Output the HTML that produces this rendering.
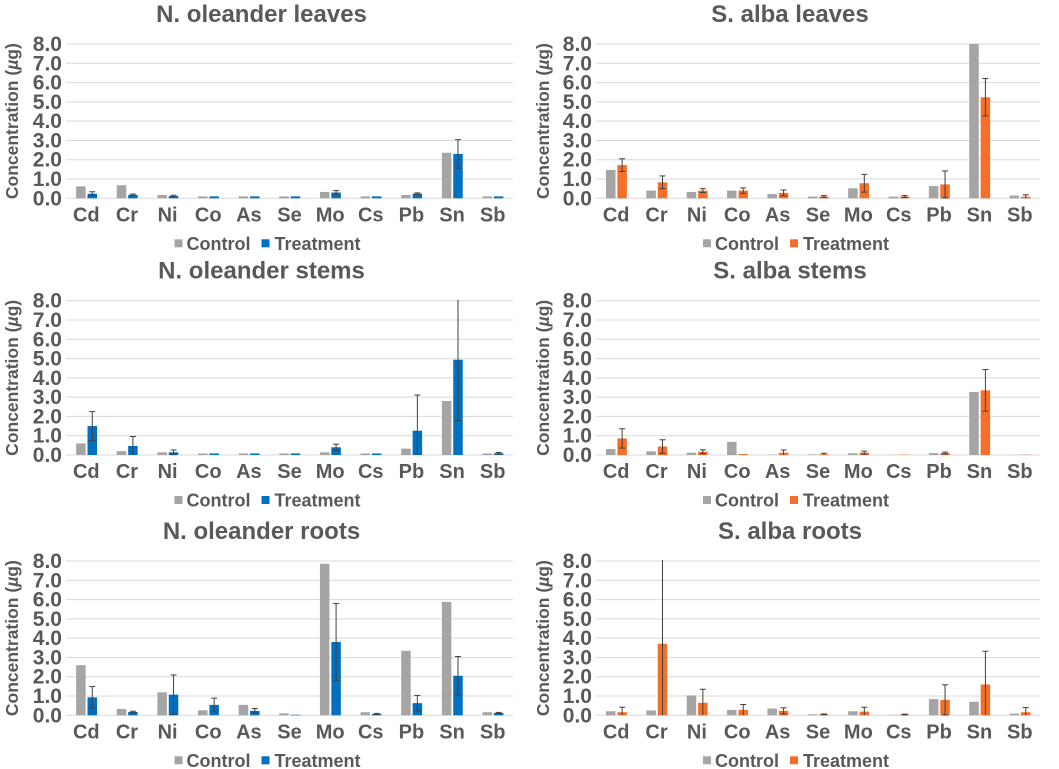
<!DOCTYPE html>
<html><head><meta charset="utf-8">
<style>
html,body{margin:0;padding:0;background:#fff;}
svg{display:block;font-family:"Liberation Sans",Arial,sans-serif;font-weight:bold;}
</style></head>
<body>
<svg id="fig" width="1059" height="769" viewBox="0 0 1059 769" xmlns="http://www.w3.org/2000/svg"></svg>
<script>
const categories = ["Cd","Cr","Ni","Co","As","Se","Mo","Cs","Pb","Sn","Sb"];
const yTicks = [0,1,2,3,4,5,6,7,8];
const yTickLabels = ["0.0","1.0","2.0","3.0","4.0","5.0","6.0","7.0","8.0"];
const titles = ["N. oleander leaves","S. alba leaves","N. oleander stems","S. alba stems","N. oleander roots","S. alba roots"];

const olLeavesControl = [0.62,0.68,0.17,0.1,0.1,0.1,0.33,0.1,0.17,2.36,0.1];
const olLeavesTreat = [0.24,0.18,0.12,0.1,0.1,0.1,0.3,0.1,0.24,2.3,0.1];
const olLeavesErr = [0.1,0.04,0.04,0,0,0,0.1,0,0.04,0.74,0];

const saLeavesControl = [1.47,0.4,0.33,0.4,0.22,0.09,0.52,0.09,0.64,8.0,0.14];
const saLeavesTreat = [1.72,0.83,0.4,0.4,0.28,0.09,0.78,0.09,0.72,5.24,0.08];
const saLeavesErr = [0.33,0.33,0.1,0.14,0.15,0.05,0.46,0.05,0.7,0.97,0.1];

const olStemsControl = [0.6,0.2,0.14,0.08,0.08,0.08,0.14,0.08,0.33,2.8,0.08];
const olStemsTreat = [1.5,0.47,0.14,0.08,0.08,0.08,0.4,0.08,1.26,4.94,0.09];
const olStemsErr = [0.75,0.49,0.12,0,0,0,0.16,0,1.85,3.16,0.04];

const saStemsControl = [0.31,0.19,0.12,0.68,0.02,0.03,0.09,0.01,0.1,3.27,0.01];
const saStemsTreat = [0.86,0.44,0.17,0.05,0.12,0.04,0.12,0.02,0.1,3.35,0.02];
const saStemsErr = [0.5,0.35,0.1,0,0.14,0.05,0.08,0,0.05,1.08,0];

const olRootsControl = [2.6,0.33,1.19,0.26,0.54,0.1,7.86,0.16,3.34,5.88,0.16];
const olRootsTreat = [0.93,0.17,1.07,0.54,0.23,0.03,3.8,0.07,0.63,2.05,0.12];
const olRootsErr = [0.56,0.04,1.02,0.35,0.12,0,2.0,0.03,0.4,1.0,0.03];

const saRootsControl = [0.21,0.25,1.03,0.28,0.35,0.05,0.21,0.02,0.84,0.7,0.09];
const saRootsTreat = [0.16,3.71,0.65,0.28,0.23,0.05,0.19,0.04,0.8,1.6,0.16];
const saRootsErr = [0.26,4.6,0.7,0.28,0.16,0.02,0.23,0.02,0.78,1.72,0.24];

const controls = [olLeavesControl,saLeavesControl,olStemsControl,saStemsControl,olRootsControl,saRootsControl];
const treats = [olLeavesTreat,saLeavesTreat,olStemsTreat,saStemsTreat,olRootsTreat,saRootsTreat];
const errs = [olLeavesErr,saLeavesErr,olStemsErr,saStemsErr,olRootsErr,saRootsErr];

const NS="http://www.w3.org/2000/svg";
const svg=document.getElementById('fig');
function mk(tag,attrs,parent){const e=document.createElementNS(NS,tag);for(const k in attrs)e.setAttribute(k,attrs[k]);parent.appendChild(e);return e;}

const rowTops=[44,300.7,561];
const plotH=154.3;
const colX=[[66,513],[596,1040]];
const colAxisRight=[62,592];
const colTitleX=[12,543];
const TXT="#595959";
const ORANGE="#F4702A", BLUE="#0070C0", GRAY="#A5A5A5";

for(let p=0;p<6;p++){
  const row=Math.floor(p/2), col=p%2;
  const top=rowTops[row], zero=top+plotH;
  const x0=colX[col][0], x1=colX[col][1];
  const bw=(x1-x0)/categories.length;
  const yScale=v=>zero-Math.min(v,8.05)/8*plotH;
  const xBand=i=>x0+bw*(i+0.5);
  const tcol=col===0?BLUE:ORANGE;
  const g=mk('g',{},svg);
  
  
  const t=mk('text',{x:(x0+x1)/2-28,y:top-22,'text-anchor':'middle','font-size':'24',fill:TXT},g);
  t.textContent=titles[p];
  
  
  yTicks.forEach((v,i)=>{
    const y=yScale(v);
    const ln=mk('line',{x1:x0,x2:x1,y1:y,y2:y,stroke:'#d9d9d9','stroke-width':1},g);
    
    
    const tl=mk('text',{x:colAxisRight[col],y:y+7,'text-anchor':'end','font-size':'21',fill:TXT},g);
    tl.textContent=yTickLabels[i];
    
    
  });
  const at=mk('text',{x:0,y:0,'text-anchor':'middle','font-size':'17.5',fill:TXT,transform:`translate(${colTitleX[col]+6},${(top+zero)/2}) rotate(-90)`},g);
  at.innerHTML='Concentration (<tspan font-style="italic">µ</tspan>g)';
  
  
  categories.forEach((c,i)=>{
    const cx=xBand(i);
    const cv=controls[p][i], tv=treats[p][i], ev=errs[p][i];
    const b1=mk('rect',{x:cx-10.2,y:yScale(cv),width:9.5,height:zero-yScale(cv),fill:GRAY},g);
    
    
    const b2=mk('rect',{x:cx+1.2,y:yScale(tv),width:9.5,height:zero-yScale(tv),fill:tcol},g);
    
    
    if(ev>0){
      const ex=cx+5.95;
      const hiV=tv+ev, loV=Math.max(0,tv-ev);
      const yh=yScale(hiV), yl=yScale(loV);
      const eg=mk('g',{stroke:'#404040','stroke-width':1},g);
      
      
      mk('line',{x1:ex,x2:ex,y1:yh,y2:yl},eg);
      if(hiV<=8) mk('line',{x1:ex-3,x2:ex+3,y1:yh,y2:yh},eg);
      if(tv-ev>0) mk('line',{x1:ex-3,x2:ex+3,y1:yl,y2:yl},eg);
    }
    const cl=mk('text',{x:cx,y:zero+23,'text-anchor':'middle','font-size':'20',fill:TXT},g);
    cl.textContent=c;
    
    
  });
  const lx=(x0+x1)/2-80;
  const lg=mk('g',{},g);
  
  
  const ly=zero+45;
  const s1=mk('rect',{x:lx-35,y:ly-4,width:8,height:8,fill:GRAY},lg);
  
  
  const l1=mk('text',{x:lx-23,y:ly+6.5,'font-size':'18',fill:TXT},lg);
  l1.textContent='Control';
  
  
  const s2=mk('rect',{x:lx+52,y:ly-4,width:8,height:8,fill:tcol},lg);
  
  
  const l2=mk('text',{x:lx+65,y:ly+6.5,'font-size':'18',fill:TXT},lg);
  l2.textContent='Treatment';
  
  
}
</script>
</body></html>
